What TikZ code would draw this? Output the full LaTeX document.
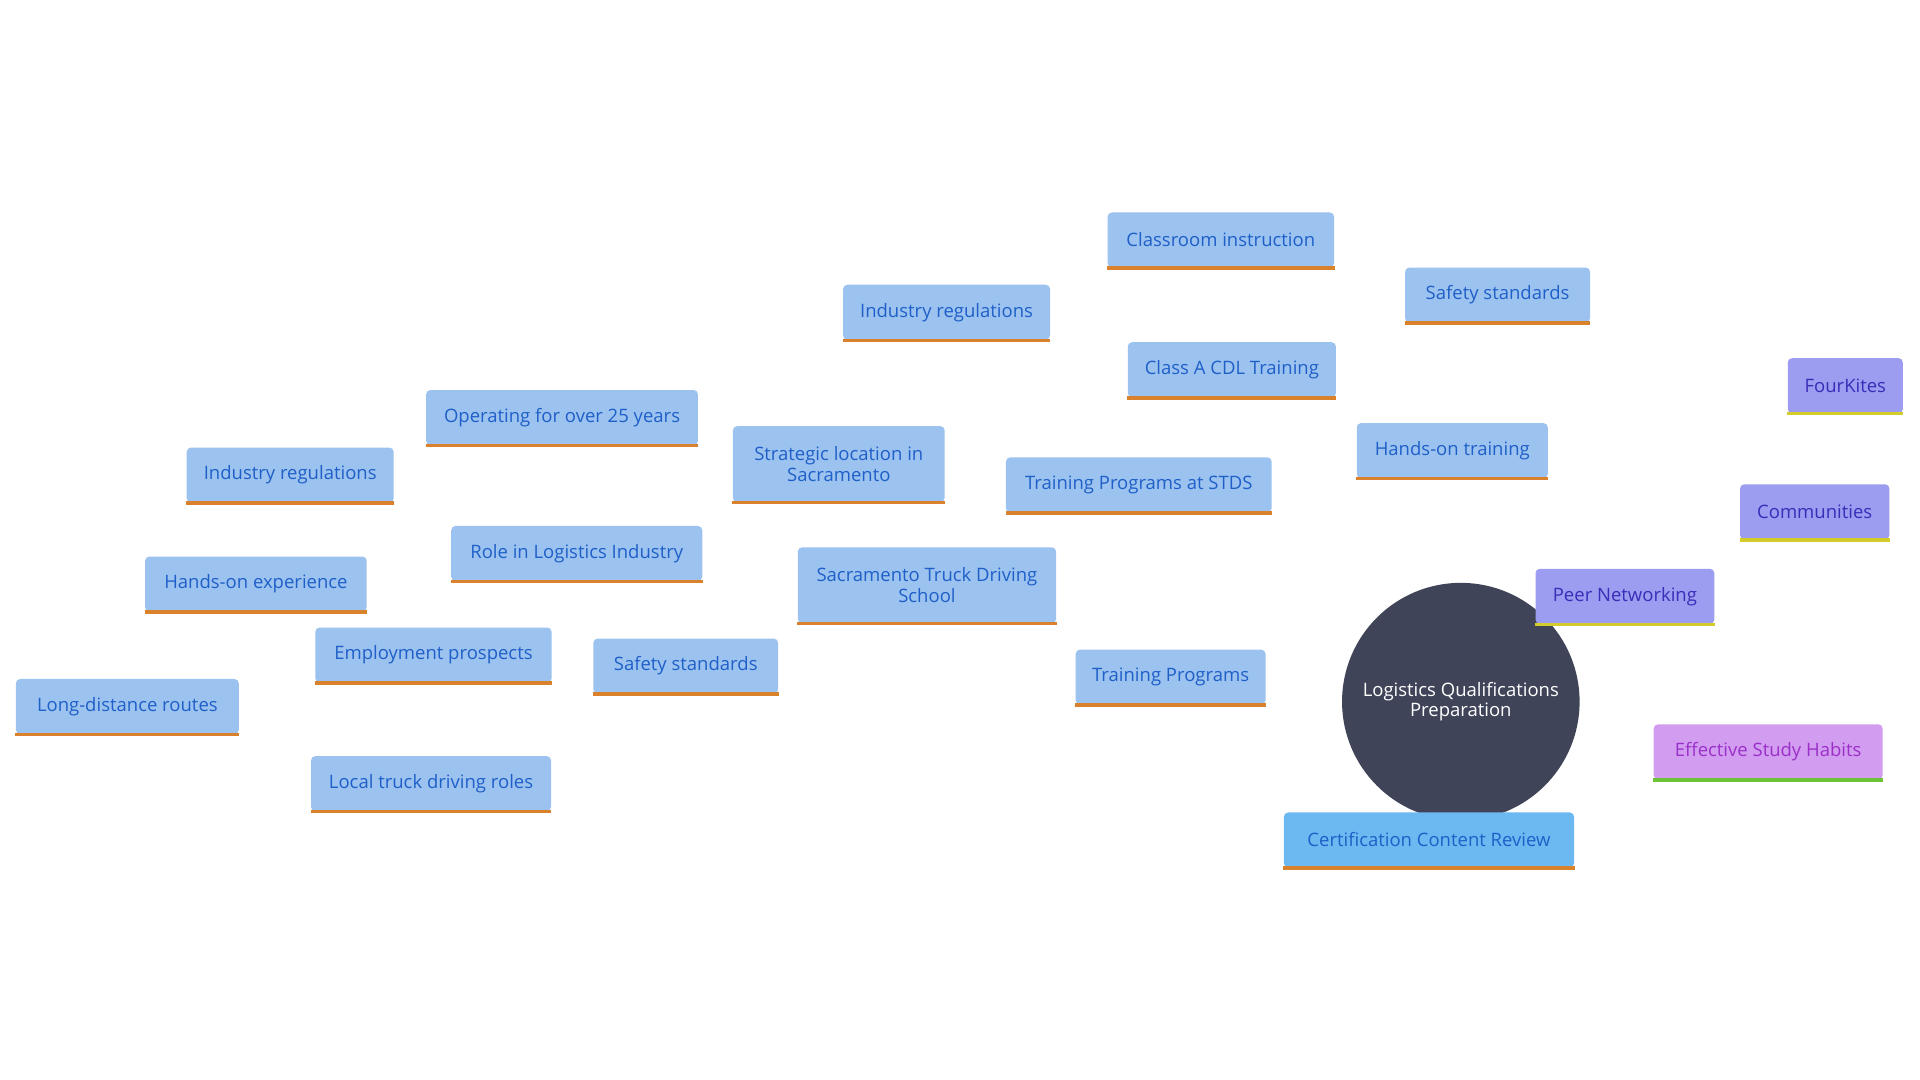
\documentclass[tikz,border=0pt]{standalone}
\usepackage{fontspec}
\setmainfont{Open Sans}
\usetikzlibrary{backgrounds}
\definecolor{nb}{HTML}{9CC3F0}
\definecolor{tb}{HTML}{1F5FC8}
\definecolor{ob}{HTML}{D9822B}
\definecolor{pf}{HTML}{9C9CF0}
\definecolor{pt}{HTML}{3A2DB8}
\definecolor{yl}{HTML}{D4CC2A}
\definecolor{kf}{HTML}{D29CF0}
\definecolor{kt}{HTML}{9B30C8}
\definecolor{gl}{HTML}{6CC33A}
\definecolor{cf}{HTML}{6CB8F0}
\definecolor{dk}{HTML}{404459}
\begin{document}
\begin{tikzpicture}[x=0.02cm,y=-0.02cm,
 box/.style={fill=nb,text=tb,rounded corners=2pt,inner sep=0pt,align=center,
   font=\fontsize{8.6}{9.6}\selectfont,minimum height=45*0.02cm,
   append after command={(\tikzlastnode.south west) edge[draw=ob,line width=1.6pt] (\tikzlastnode.south east)}},
 pbox/.style={box,fill=pf,text=pt,
   append after command={(\tikzlastnode.south west) edge[draw=yl,line width=1.6pt] (\tikzlastnode.south east)}},
 kbox/.style={box,fill=kf,text=kt,
   append after command={(\tikzlastnode.south west) edge[draw=gl,line width=1.6pt] (\tikzlastnode.south east)}},
 cbox/.style={box,fill=cf},
 ln/.style={draw=nb,line width=1.7pt},
 pl/.style={draw=pf,line width=1.7pt},
 kl/.style={draw=kf,line width=1.7pt}]
\useasboundingbox[fill=white] (0,0) rectangle (1568,882);
\node[box,minimum width=185*0.02cm] (ci) at (997,196) {Classroom instruction};
\node[box,minimum width=169*0.02cm] (ir1) at (773,255) {Industry regulations};
\node[box,minimum width=151*0.02cm] (ss1) at (1223,241) {Safety standards};
\node[box,minimum width=170*0.02cm] (cdl) at (1006,302) {Class A CDL Training};
\node[box,minimum width=156*0.02cm] (ht) at (1186,368) {Hands-on training};
\node[box,minimum width=217*0.02cm] (tps) at (930,396) {Training Programs at STDS};
\node[box,minimum width=222*0.02cm] (op) at (459,341) {Operating for over 25 years};
\node[box,minimum width=173*0.02cm,minimum height=62*0.02cm] (sl) at (685,379) {Strategic location in\\Sacramento};
\node[box,minimum width=169*0.02cm] (ir2) at (237,388) {Industry regulations};
\node[box,minimum width=205*0.02cm] (role) at (471,452) {Role in Logistics Industry};
\node[box,minimum width=181*0.02cm] (he) at (209,477) {Hands-on experience};
\node[box,minimum width=211*0.02cm,minimum height=62*0.02cm] (std) at (757,478) {Sacramento Truck Driving\\School};
\node[box,minimum width=193*0.02cm] (ep) at (354,535) {Employment prospects};
\node[box,minimum width=151*0.02cm] (ss2) at (560,544) {Safety standards};
\node[box,minimum width=182*0.02cm] (ld) at (104,577) {Long-distance routes};
\node[box,minimum width=196*0.02cm] (lt) at (352,640) {Local truck driving roles};
\node[box,minimum width=155*0.02cm] (tp) at (956,553) {Training Programs};
\node[circle,fill=dk,text=white,minimum size=194*0.02cm,inner sep=0pt,align=center,font=\fontsize{8.6}{9.6}\selectfont] (c) at (1193,573) {Logistics Qualifications\\Preparation};
\node[pbox,minimum width=146*0.02cm] (pn) at (1327,487) {Peer Networking};
\node[pbox,minimum width=122*0.02cm] (cm) at (1482,418) {Communities};
\node[pbox,minimum width=94*0.02cm] (fk) at (1507,315) {FourKites};
\node[kbox,minimum width=187*0.02cm] (es) at (1444,614) {Effective Study Habits};
\node[cbox,minimum width=237*0.02cm] (cr) at (1167,686) {Certification Content Review};
\begin{scope}[on background layer]
\draw[ln] (cdl)--(ci) (cdl)--(ir1) (cdl)--(ss1) (cdl)--(ht) (cdl)--(tps);
\draw[ln] (tps)--(std) (std)--(role) (std)--(tp) (tp)--(c) (c)--(cr);
\draw[ln] (role)--(op) (role)--(sl) (role)--(ir2) (role)--(he) (role)--(ep) (role)--(ss2);
\draw[ln] (ep)--(ld) (ep)--(lt);
\draw[pl] (c)--(pn) (pn)--(cm) (cm)--(fk);
\draw[kl] (c)--(es);
\end{scope}
\end{tikzpicture}
\end{document}
